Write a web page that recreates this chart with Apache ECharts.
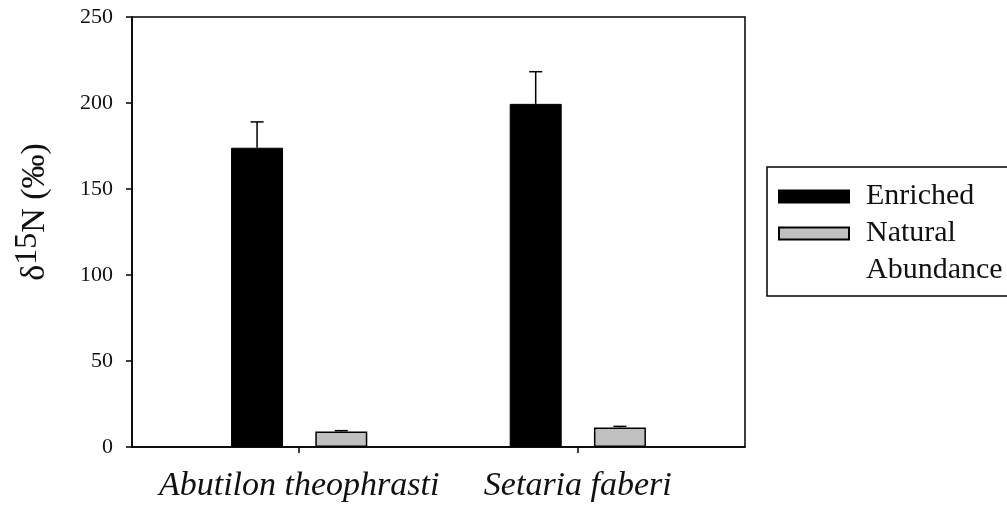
<!DOCTYPE html>
<html>
<head>
<meta charset="utf-8">
<script src="https://cdn.jsdelivr.net/npm/echarts@6/dist/echarts.min.js"></script>
<style>
html,body{margin:0;padding:0;background:#fff;}
#chart{width:1007px;height:513px;}
</style>
</head>
<body>
<div id="chart"></div>
<script>
// ---- data ----
var categories = ['Abutilon theophrasti', 'Setaria faberi'];
var seriesNames = ['Enriched', 'Natural\nAbundance'];
var enrichedValues = [174, 199.5];
var enrichedErrors = [15, 18.7];
var naturalValues = [9.0, 11.3];
var naturalErrors = [0.5, 0.7];
var yTicks = [0, 50, 100, 150, 200, 250];

// ---- styles ----
var FONT = '"Liberation Serif", "Times New Roman", serif';
var BAR_W = 52;
var BAR_GAP = 0.62;

var positions = categories.map(function (c, i) { return i + 1; });

function barData(vals) {
  return vals.map(function (v, i) { return [positions[i], v]; });
}
function errData(vals, errs) {
  return vals.map(function (v, i) { return [positions[i], v, errs[i]]; });
}

function errorRenderer(sign) {
  return function (params, api) {
    var x = api.value(0), y = api.value(1), e = api.value(2);
    var base = api.coord([x, y]);
    var top = api.coord([x, y + e]);
    var off = sign * BAR_W * (1 + BAR_GAP) / 2;
    var cx = base[0] + off;
    var cap = 6.5;
    return {
      type: 'group',
      children: [
        { type: 'line', shape: { x1: cx, y1: base[1], x2: cx, y2: top[1] },
          style: { stroke: '#000', lineWidth: 1.5 } },
        { type: 'line', shape: { x1: cx - cap, y1: top[1], x2: cx + cap, y2: top[1] },
          style: { stroke: '#000', lineWidth: 1.5 } }
      ]
    };
  };
}

var chart = echarts.init(document.getElementById('chart'));
chart.setOption({
  animation: false,
  backgroundColor: '#fff',
  textStyle: { fontFamily: FONT, color: '#111' },
  grid: {
    left: 132, right: 262, top: 17, bottom: 66,
    show: true, borderColor: '#000', borderWidth: 1.5, backgroundColor: 'transparent',
    containLabel: false
  },
  legend: {
    left: 767, top: 167,
    orient: 'vertical',
    padding: [11, 0, 7, 11],
    itemGap: -37,
    itemWidth: 70, itemHeight: 12,
    borderColor: '#000', borderWidth: 1.5,
    selectedMode: false,
    formatter: function (name) {
      // put the swatch beside the first line of a two-line label
      return name.indexOf('\n') >= 0 ? ' \n' + name : name;
    },
    textStyle: { fontFamily: FONT, fontSize: 30, lineHeight: 37, color: '#111',
      padding: [0, 0, 0, 12], width: 220, overflow: 'none' },
    data: [
      { name: seriesNames[0], icon: 'rect' },
      { name: seriesNames[1], icon: 'rect' }
    ]
  },
  xAxis: {
    type: 'value', min: 0.4, max: 2.6,
    splitLine: { show: false },
    axisLine: { show: true, onZero: false, lineStyle: { color: '#000', width: 1.5 } },
    axisTick: { show: true, customValues: positions, length: 6, lineStyle: { color: '#000', width: 1.5 } },
    axisLabel: {
      customValues: positions,
      formatter: function (v) { return categories[Math.round(v) - 1] || ''; },
      fontFamily: FONT, fontSize: 34, fontStyle: 'italic', color: '#111', margin: 22
    }
  },
  yAxis: {
    type: 'value', min: yTicks[0], max: yTicks[yTicks.length - 1], interval: 50,
    splitLine: { show: false },
    axisLine: { show: true, lineStyle: { color: '#000', width: 1.5 } },
    axisTick: { show: true, inside: false, length: 6, lineStyle: { color: '#000', width: 1.5 } },
    axisLabel: { fontFamily: FONT, fontSize: 22, color: '#111', margin: 19 },
    name: 'δ{sup|15}N (‰)',
    nameLocation: 'middle',
    nameGap: 74,
    nameTextStyle: {
      fontFamily: FONT, fontSize: 34, color: '#111',
      padding: [0, 0, 0, 40],
      rich: { sup: { fontFamily: FONT, fontSize: 32, color: '#111', padding: [0, 0, 14, 0] } }
    }
  },
  series: [
    {
      name: seriesNames[0], type: 'bar', data: barData(enrichedValues),
      barWidth: BAR_W, barGap: (BAR_GAP * 100) + '%',
      itemStyle: { color: '#000', borderColor: '#000', borderWidth: 1 }
    },
    {
      name: seriesNames[1], type: 'bar', data: barData(naturalValues),
      barWidth: BAR_W, barGap: (BAR_GAP * 100) + '%',
      itemStyle: { color: '#c0c0c0', borderColor: '#000', borderWidth: 1.5 }
    },
    {
      type: 'custom', renderItem: errorRenderer(-1), data: errData(enrichedValues, enrichedErrors),
      z: 5, silent: true
    },
    {
      type: 'custom', renderItem: errorRenderer(1), data: errData(naturalValues, naturalErrors),
      z: 5, silent: true
    }
  ]
});
</script>
</body>
</html>
